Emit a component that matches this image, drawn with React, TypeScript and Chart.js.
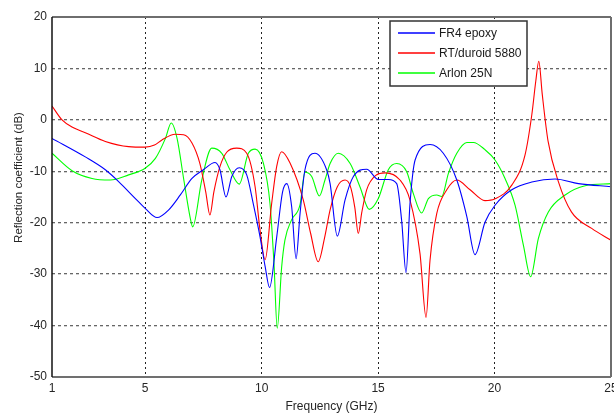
import React, { useEffect, useRef } from 'react';
import { Chart, registerables } from 'chart.js';

Chart.register(...registerables);

// ---- data ----
const fr4Freq = [1.0, 2.43, 3.29, 3.86, 4.58, 5.0, 5.51, 6.01, 6.51, 7.01, 7.5, 8.0, 8.21, 8.47, 8.72, 9.04, 9.36, 9.64, 9.93, 10.15, 10.34, 10.65, 10.9, 11.08, 11.29, 11.48, 11.65, 11.86, 12.29, 12.79, 12.94, 13.25, 13.58, 13.94, 14.51, 15.01, 15.44, 15.8, 16.01, 16.2, 16.37, 16.59, 17.23, 17.8, 18.38, 18.81, 19.16, 19.59, 20.02, 20.74, 21.6, 22.6, 23.6, 25.0];
const fr4Db = [-3.6, -7.2, -9.7, -12.0, -15.3, -17.2, -19.0, -17.5, -14.6, -11.4, -9.7, -8.3, -9.7, -15.0, -11.0, -9.3, -10.7, -16.3, -22.7, -28.5, -32.6, -22.7, -14.0, -12.4, -16.9, -27.0, -18.2, -9.7, -6.5, -9.7, -12.4, -22.6, -15.6, -11.0, -9.6, -11.6, -11.6, -12.4, -19.5, -29.7, -16.3, -7.8, -4.8, -6.5, -11.7, -18.8, -26.2, -19.9, -16.6, -13.6, -12.1, -11.5, -12.4, -13.0];

const rtFreq = [1.0, 1.43, 1.9, 2.43, 3.29, 4.29, 5.0, 5.4, 5.72, 6.29, 6.65, 7.01, 7.35, 7.6, 7.78, 7.95, 8.21, 8.5, 8.93, 9.36, 9.72, 9.93, 10.15, 10.43, 10.65, 10.86, 11.22, 11.79, 12.1, 12.43, 12.7, 12.94, 13.25, 13.58, 13.8, 14.0, 14.15, 14.3, 14.51, 14.9, 15.3, 15.94, 16.37, 16.8, 17.06, 17.23, 17.52, 17.95, 18.38, 18.95, 19.59, 20.0, 20.74, 21.31, 21.6, 21.77, 21.9, 22.05, 22.3, 22.74, 23.3, 24.17, 25.0];
const rtDb = [2.7, 0.0, -1.5, -2.5, -4.2, -5.2, -5.3, -4.9, -3.9, -2.8, -2.9, -4.5, -8.5, -14.0, -18.5, -14.0, -9.1, -6.3, -5.5, -6.5, -13.0, -21.4, -27.2, -16.3, -9.0, -6.2, -8.4, -15.6, -22.0, -27.6, -23.0, -17.5, -13.0, -11.7, -12.8, -17.0, -22.1, -18.0, -13.6, -10.8, -10.3, -11.7, -15.6, -26.0, -38.4, -27.3, -18.2, -13.6, -11.7, -13.6, -15.7, -15.4, -12.7, -6.8, 1.0, 7.5, 11.4, 4.9, -4.2, -12.0, -17.9, -21.1, -23.4];

const arlonFreq = [1.0, 1.86, 2.72, 3.5, 4.29, 5.0, 5.44, 5.87, 6.12, 6.37, 6.65, 6.94, 7.04, 7.43, 7.86, 8.29, 8.64, 9.04, 9.43, 9.72, 10.08, 10.36, 10.53, 10.67, 10.86, 11.0, 11.28, 11.65, 11.86, 12.15, 12.48, 12.72, 12.94, 13.29, 13.8, 14.22, 14.62, 15.01, 15.44, 15.8, 16.23, 16.51, 16.87, 17.16, 17.52, 17.73, 18.02, 18.38, 18.81, 19.09, 19.59, 20.02, 20.45, 20.88, 21.24, 21.55, 21.88, 22.31, 23.03, 23.89, 25.0];
const arlonDb = [-6.5, -9.9, -11.4, -11.7, -10.7, -9.4, -7.5, -3.6, -0.6, -3.6, -11.4, -19.2, -20.8, -11.7, -5.5, -6.5, -9.7, -12.5, -6.5, -5.7, -8.5, -16.3, -27.9, -40.5, -28.6, -23.4, -19.5, -16.5, -10.2, -11.0, -14.8, -11.7, -8.5, -6.5, -8.5, -13.0, -17.4, -15.3, -9.7, -8.5, -10.1, -14.3, -18.1, -15.3, -14.6, -14.9, -10.4, -6.5, -4.4, -4.4, -5.8, -7.8, -11.4, -16.6, -24.4, -30.5, -23.1, -17.9, -14.6, -12.8, -12.4];

const seriesNames = ['FR4 epoxy', 'RT/duroid 5880', 'Arlon 25N'];
const seriesColors = ['#0000ff', '#ff0000', '#00ff00'];
const xTicks = [1, 5, 10, 15, 20, 25];
const xMin = 1;
const xMax = 25;
const yMin = -50;
const yMax = 20;
const yStep = 10;
const xTitle = 'Frequency (GHz)';
const yTitle = 'Reflection coefficient (dB)';

const FONT = '"Liberation Sans", Arial, Helvetica, sans-serif';

function zip(xs: number[], ys: number[]) {
  return xs.map((x, i) => ({ x, y: ys[i] }));
}

const framePlugin = {
  id: 'frame',
  afterDatasetsDraw(chart: any) {
    const { ctx, chartArea: ca } = chart;
    ctx.save();
    ctx.lineCap = 'butt';
    // top & right (gray)
    ctx.strokeStyle = '#6e6e6e';
    ctx.lineWidth = 2;
    ctx.beginPath();
    ctx.moveTo(ca.left, ca.top);
    ctx.lineTo(ca.right, ca.top);
    ctx.moveTo(ca.right, ca.top);
    ctx.lineTo(ca.right, ca.bottom);
    ctx.stroke();
    // bottom (gray)
    ctx.strokeStyle = '#707070';
    ctx.beginPath();
    ctx.moveTo(ca.left, ca.bottom);
    ctx.lineTo(ca.right, ca.bottom);
    ctx.stroke();
    // left (black)
    ctx.strokeStyle = '#111';
    ctx.lineWidth = 1.5;
    ctx.beginPath();
    ctx.moveTo(ca.left, ca.top);
    ctx.lineTo(ca.left, ca.bottom);
    ctx.stroke();
    // y title
    ctx.fillStyle = '#262626';
    ctx.font = `11.5px ${FONT}`;
    ctx.textAlign = 'center';
    ctx.textBaseline = 'alphabetic';
    ctx.translate(ca.left - 30, ca.top + 160.5);
    ctx.rotate(-Math.PI / 2);
    ctx.fillText(yTitle, 0, 0);
    ctx.restore();
  },
};

const legendPlugin = {
  id: 'boxLegend',
  afterDraw(chart: any) {
    const { ctx, chartArea: ca } = chart;
    const x0 = ca.right - 221;
    const y0 = ca.top + 4;
    const w = 137;
    const h = 65;
    ctx.save();
    ctx.fillStyle = '#ffffff';
    ctx.fillRect(x0, y0, w, h);
    ctx.strokeStyle = '#333';
    ctx.lineWidth = 1.5;
    ctx.strokeRect(x0, y0, w, h);
    chart.data.datasets.forEach((ds: any, i: number) => {
      const y = y0 + 12 + i * 20;
      ctx.strokeStyle = ds.borderColor;
      ctx.lineWidth = 1.4;
      ctx.beginPath();
      ctx.moveTo(x0 + 8, y);
      ctx.lineTo(x0 + 45, y);
      ctx.stroke();
      ctx.fillStyle = '#1a1a1a';
      ctx.font = `12px ${FONT}`;
      ctx.textAlign = 'left';
      ctx.textBaseline = 'middle';
      ctx.fillText(ds.label, x0 + 49, y + 0.5);
    });
    ctx.restore();
  },
};

export default function App() {
  const ref = useRef<HTMLCanvasElement | null>(null);

  useEffect(() => {
    if (!ref.current) return;
    const seriesData = [zip(fr4Freq, fr4Db), zip(rtFreq, rtDb), zip(arlonFreq, arlonDb)];
    const chart = new Chart(ref.current, {
      type: 'line',
      data: {
        datasets: seriesData.map((d, i) => ({
          label: seriesNames[i],
          data: d,
          borderColor: seriesColors[i],
          backgroundColor: seriesColors[i],
          borderWidth: 1.1,
          pointRadius: 0,
          fill: false,
          cubicInterpolationMode: 'monotone' as const,
        })),
      },
      options: {
        responsive: false,
        animation: false,
        devicePixelRatio: 1,
        layout: { padding: { left: 0, top: 17, right: 3, bottom: 0 } },
        plugins: {
          legend: { display: false },
          tooltip: { enabled: false },
        },
        scales: {
          x: {
            type: 'linear',
            min: xMin,
            max: xMax,
            afterBuildTicks: (s: any) => {
              s.ticks = xTicks.map((v) => ({ value: v }));
            },
            afterFit: (s: any) => {
              s.height = 37;
              s.paddingLeft = 0;
              s.paddingRight = 0;
            },
            ticks: {
              font: { family: FONT, size: 12 },
              color: '#262626',
              padding: 4,
              maxRotation: 0,
              autoSkip: false,
              callback: (v: any) => String(v),
            },
            grid: {
              drawTicks: false,
              color: (c: any) =>
                c.tick && (c.tick.value === xMin || c.tick.value === xMax) ? 'rgba(0,0,0,0)' : '#222',
              lineWidth: 1,
            },
            border: { display: false, dash: [2, 3] },
            title: {
              display: true,
              text: xTitle,
              font: { family: FONT, size: 12 },
              color: '#262626',
              padding: { top: 0, bottom: 0 },
            },
          },
          y: {
            type: 'linear',
            min: yMin,
            max: yMax,
            afterFit: (s: any) => {
              s.width = 52;
              s.paddingTop = 0;
              s.paddingBottom = 0;
            },
            ticks: {
              stepSize: yStep,
              font: { family: FONT, size: 12 },
              color: '#262626',
              padding: 5,
            },
            grid: {
              drawTicks: false,
              color: (c: any) =>
                c.tick && (c.tick.value === yMin || c.tick.value === yMax) ? 'rgba(0,0,0,0)' : '#666',
              lineWidth: 1.3,
            },
            border: { display: false, dash: [3, 3] },
          },
        },
      },
      plugins: [framePlugin, legendPlugin],
    });
    return () => chart.destroy();
  }, []);

  return (
    <div style={{ position: 'absolute', left: 0, top: 0, width: 614, height: 414, background: '#fff' }}>
      <canvas ref={ref} width={614} height={414} style={{ display: 'block' }} />
    </div>
  );
}
